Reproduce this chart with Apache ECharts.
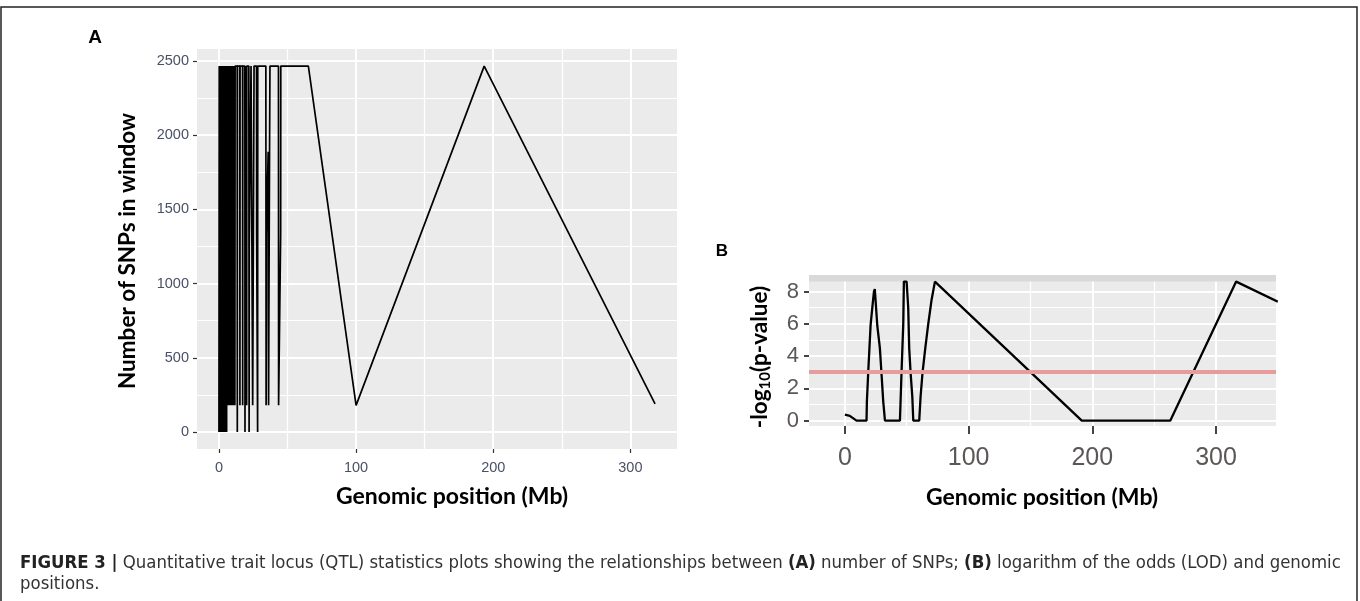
<!DOCTYPE html>
<html>
<head>
<meta charset="utf-8">
<script src="https://cdn.jsdelivr.net/npm/echarts@6/dist/echarts.min.js"></script>
<style>
html, body { margin: 0; padding: 0; background: #fff; }
#main { width: 1360px; height: 601px; }
</style>
</head>
<body>
<div id="main"></div>
<script>
// panel A : number of SNPs in window along the genome
var snpPos = [0, 0.2, 0.4, 0.6, 0.8, 1.0, 1.2, 1.4, 1.6, 1.8, 2.0, 2.2, 2.4, 2.6, 2.8, 3.0, 3.2, 3.4, 3.6, 3.8,
  4.0, 4.2, 4.4, 4.6, 4.8, 5.0, 5.2, 5.4, 5.6, 5.8, 6.0, 6.2, 6.4, 6.6, 6.8, 7.0, 7.2, 7.4, 7.6, 7.8,
  8.0, 8.2, 8.4, 8.6, 8.8, 9.0, 9.2, 9.4, 9.6, 9.8, 10.0, 10.2, 10.4, 10.6, 10.8, 11.0, 11.2, 11.4, 11.6, 11.8,
  13.3, 13.4, 13.5, 15.2, 15.3, 15.4, 17.2, 17.3, 17.4, 18.9, 19.0, 19.1, 20.1, 20.2, 20.3,
  21.8, 21.9, 22.0, 22.1, 23.3, 23.4, 24.5, 24.6, 25.5, 25.6, 27.4, 27.5, 28.1, 28.2, 28.3,
  34.2, 34.3, 34.4, 34.6, 35.9, 36.0, 36.2, 36.4, 36.9, 37.2, 43.4, 43.5, 44.9, 45.0, 45.1,
  65.2, 100, 193.4, 318];
var snpCount = [0, 2465, 0, 2465, 0, 2465, 0, 2465, 0, 2465, 0, 2465, 0, 2465, 0, 2465, 0, 2465, 0, 2465,
  180, 2465, 0, 2465, 180, 2465, 180, 2465, 0, 2465, 180, 2465, 180, 2465, 180, 2465, 180, 2465, 180, 2465,
  180, 2465, 180, 2465, 180, 2465, 180, 2465, 180, 2465, 180, 2465, 180, 2465, 180, 2465, 180, 2465, 180, 2465,
  2465, 0, 2465, 2465, 180, 2465, 2465, 180, 2465, 2465, 0, 2465, 2465, 180, 2465,
  2465, 1240, 0, 1240, 1240, 2465, 2465, 180, 180, 2465, 2465, 1330, 1330, 0, 2465,
  2465, 1330, 180, 1330, 1888, 756, 180, 756, 1888, 2465, 2465, 180, 180, 1330, 2465,
  2465, 180, 2465, 190];
var aXTicks = [0, 100, 200, 300];
var aXMinor = [50, 150, 250];
var aYTicks = [0, 500, 1000, 1500, 2000, 2500];
var aYMinor = [250, 750, 1250, 1750, 2250];

// panel B : -log10(p-value) along the genome
var lodPos = [0, 4, 9.4, 17.5, 17.8, 18.9, 20.8, 22.4, 23.5, 24.2, 25.1, 26.2, 28.3, 29.7, 31, 32.4,
  44.5, 45.8, 47.2, 47.7, 49.9, 51.2, 52, 53.1, 54.5, 55.3, 60.1, 61.2, 62.8, 65, 67.4, 70.1, 72.8,
  191.5, 263, 316.3, 350];
var lodVal = [0.37, 0.3, 0, 0, 1.2, 3.05, 5.94, 7.18, 8.0, 8.15, 8.15, 5.9, 4.5, 2.8, 1.2, 0,
  0, 3.0, 6.0, 8.62, 8.62, 7.0, 4.5, 3.0, 1.5, 0, 0, 1.5, 3.0, 4.5, 6.0, 7.5, 8.62,
  0, 0, 8.62, 7.38];
var lodThreshold = 3.05;
var bXTicks = [0, 100, 200, 300];
var bXMinor = [50, 150, 250];
var bYTicks = [0, 2, 4, 6, 8];
var bYMinor = [1, 3, 5, 7];

function zip(a, b) {
  var out = [];
  for (var i = 0; i < a.length; i++) out.push([a[i], b[i]]);
  return out;
}
function plain(v) { return String(v); }

var chart = echarts.init(document.getElementById('main'));

var tickFontA = { fontFamily: 'Liberation Sans', fontSize: 14.5, color: '#4a5066', formatter: plain };
var tickFontB = { fontFamily: 'Liberation Sans', color: '#5a5756', formatter: plain };

function majorAxis(grid, min, max, ticks, label, tick) {
  return {
    type: 'value', gridIndex: grid, min: min, max: max,
    axisLine: { show: false, onZero: false },
    axisTick: Object.assign({ show: true, customValues: ticks, lineStyle: { color: '#333', width: 1.2 } }, tick),
    axisLabel: Object.assign({ show: true, customValues: ticks }, label),
    splitLine: { show: true, lineStyle: { color: '#ffffff', width: 2 } }
  };
}
function minorAxis(grid, min, max, ticks) {
  return {
    type: 'value', gridIndex: grid, min: min, max: max,
    axisLine: { show: false, onZero: false },
    axisTick: { show: false, customValues: ticks },
    axisLabel: { show: false },
    splitLine: { show: true, lineStyle: { color: '#ffffff', width: 1.2 } }
  };
}

var titleFont = { fontFamily: 'Lato', fontWeight: 'bold', fontSize: 23, fill: '#000', align: 'center', verticalAlign: 'middle', textAlign: 'center', textVerticalAlign: 'middle' };
var capFont = 'Liberation Sans Narrow, DejaVu Sans Condensed, sans-serif';

option = {
  backgroundColor: '#ffffff',
  animation: false,
  grid: [
    { left: 197, top: 49, width: 480, height: 400, show: true, backgroundColor: '#ebebeb', borderWidth: 0, containLabel: false, outerBoundsMode: 'none' },
    { left: 809, top: 275, width: 467, height: 151, show: true, backgroundColor: '#ebebeb', borderWidth: 0, containLabel: false, outerBoundsMode: 'none' }
  ],
  xAxis: [
    majorAxis(0, -16, 334, aXTicks, Object.assign({ margin: 11 }, tickFontA), { length: 4 }),
    minorAxis(0, -16, 334, aXMinor),
    majorAxis(1, -29, 348.5, bXTicks, Object.assign({ margin: 20, fontSize: 25 }, tickFontB), { length: 8, lineStyle: { color: '#444', width: 2 } }),
    minorAxis(1, -29, 348.5, bXMinor)
  ],
  yAxis: [
    majorAxis(0, -114, 2580, aYTicks, Object.assign({ margin: 8 }, tickFontA), { length: 4 }),
    minorAxis(0, -114, 2580, aYMinor),
    majorAxis(1, -0.33, 9.03, bYTicks, Object.assign({ margin: 10, fontSize: 22 }, tickFontB), { length: 5, lineStyle: { color: '#444', width: 2 } }),
    minorAxis(1, -0.33, 9.03, bYMinor)
  ],
  series: [
    {
      name: 'SNPs', type: 'line', xAxisIndex: 0, yAxisIndex: 0,
      data: zip(snpPos, snpCount),
      showSymbol: false, symbol: 'none',
      lineStyle: { color: '#000', width: 1.7 }
    },
    {
      name: 'LOD', type: 'line', xAxisIndex: 2, yAxisIndex: 2,
      data: zip(lodPos, lodVal),
      showSymbol: false, symbol: 'none', z: 3,
      lineStyle: { color: '#000', width: 2.3 },
      markLine: {
        silent: true, symbol: ['none', 'none'], label: { show: false },
        lineStyle: { color: '#e69c9c', width: 4, type: 'solid' },
        data: [{ yAxis: lodThreshold }]
      },
      markArea: {
        silent: true, itemStyle: { color: '#d9d9d9' },
        data: [[{ yAxis: 8.62 }, { yAxis: 9.03 }]]
      }
    }
  ],
  graphic: [
    { type: 'rect', silent: true, shape: { x: 1, y: 7, width: 1356, height: 620 },
      style: { fill: 'none', stroke: '#222', lineWidth: 1.5 } },
    { type: 'text', x: 95, y: 38, style: { text: 'A', fontFamily: 'Liberation Sans', fontWeight: 'bold', fontSize: 19, fill: '#000', align: 'center', verticalAlign: 'middle', textAlign: 'center', textVerticalAlign: 'middle' } },
    { type: 'text', x: 722, y: 251, style: { text: 'B', fontFamily: 'Liberation Sans', fontWeight: 'bold', fontSize: 17, fill: '#000', align: 'center', verticalAlign: 'middle', textAlign: 'center', textVerticalAlign: 'middle' } },
    { type: 'text', x: 128, y: 251, rotation: Math.PI / 2, style: Object.assign({}, titleFont, { text: 'Number of SNPs in window', fontSize: 22.5 }) },
    { type: 'text', x: 452, y: 497, style: Object.assign({}, titleFont, { text: 'Genomic position (Mb)' }) },
    { type: 'text', x: 760, y: 357, rotation: Math.PI / 2, style: Object.assign({}, titleFont, {
        text: '-log{s|10}(p-value)', fontSize: 22.5,
        rich: { s: { fontFamily: 'Lato', fontWeight: 'bold', fontSize: 15, fill: '#000', padding: [11, 0, 0, 0] } } }) },
    { type: 'text', x: 1042, y: 498, style: Object.assign({}, titleFont, { text: 'Genomic position (Mb)' }) },
    { type: 'text', x: 20, y: 563, style: {
        text: '{b|FIGURE 3 |} Quantitative trait locus (QTL) statistics plots showing the relationships between {b|(A)} number of SNPs; {b|(B)} logarithm of the odds (LOD) and genomic',
        fontFamily: capFont, fontSize: 18.4, fill: '#333',
        align: 'left', verticalAlign: 'middle', textAlign: 'left', textVerticalAlign: 'middle',
        rich: { b: { fontFamily: capFont, fontWeight: 'bold', fontSize: 18.4, fill: '#222' } } } },
    { type: 'text', x: 20, y: 584, style: { text: 'positions.', fontFamily: capFont, fontSize: 18.4, fill: '#333', align: 'left', verticalAlign: 'middle', textAlign: 'left', textVerticalAlign: 'middle' } }
  ]
};
chart.setOption(option);
</script>
</body>
</html>
